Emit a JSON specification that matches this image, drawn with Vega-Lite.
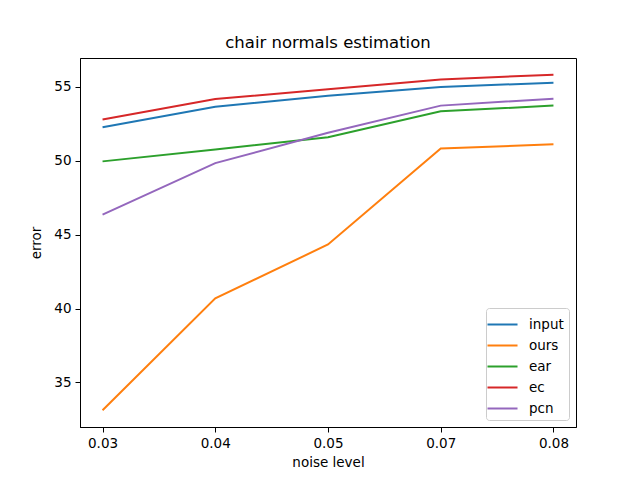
{
  "$schema": "https://vega.github.io/schema/vega-lite/v6.json",
  "autosize": "none",
  "width": 496,
  "height": 369,
  "padding": {"left": 80, "top": 58, "right": 64, "bottom": 53},
  "background": "white",
  "title": {
    "text": "chair normals estimation",
    "font": "DejaVu Sans",
    "fontSize": 16.5,
    "fontWeight": "normal",
    "color": "black",
    "offset": 7
  },
  "config": {
    "font": "DejaVu Sans",
    "view": {"stroke": "black", "strokeWidth": 1},
    "axis": {
      "grid": false,
      "domainColor": "black",
      "tickColor": "black",
      "tickSize": 5,
      "labelFont": "DejaVu Sans",
      "labelFontSize": 13.5,
      "labelColor": "black",
      "titleFont": "DejaVu Sans",
      "titleFontSize": 13.5,
      "titleFontWeight": "normal",
      "titleColor": "black"
    }
  },
  "data": {
    "values": [
      {"noise": "0.03", "method": "input", "error": 52.26},
      {"noise": "0.04", "method": "input", "error": 53.65},
      {"noise": "0.05", "method": "input", "error": 54.39},
      {"noise": "0.07", "method": "input", "error": 54.98},
      {"noise": "0.08", "method": "input", "error": 55.27},
      {"noise": "0.03", "method": "ours", "error": 33.12},
      {"noise": "0.04", "method": "ours", "error": 40.69},
      {"noise": "0.05", "method": "ours", "error": 44.33},
      {"noise": "0.07", "method": "ours", "error": 50.82},
      {"noise": "0.08", "method": "ours", "error": 51.11},
      {"noise": "0.03", "method": "ear", "error": 49.95},
      {"noise": "0.04", "method": "ear", "error": 50.75},
      {"noise": "0.05", "method": "ear", "error": 51.58},
      {"noise": "0.07", "method": "ear", "error": 53.34},
      {"noise": "0.08", "method": "ear", "error": 53.72},
      {"noise": "0.03", "method": "ec", "error": 52.78},
      {"noise": "0.04", "method": "ec", "error": 54.17},
      {"noise": "0.05", "method": "ec", "error": 54.82},
      {"noise": "0.07", "method": "ec", "error": 55.49},
      {"noise": "0.08", "method": "ec", "error": 55.81},
      {"noise": "0.03", "method": "pcn", "error": 46.35},
      {"noise": "0.04", "method": "pcn", "error": 49.83},
      {"noise": "0.05", "method": "pcn", "error": 51.88},
      {"noise": "0.07", "method": "pcn", "error": 53.72},
      {"noise": "0.08", "method": "pcn", "error": 54.19}
    ]
  },
  "mark": {"type": "line", "strokeWidth": 2},
  "encoding": {
    "x": {
      "field": "noise",
      "type": "ordinal",
      "title": "noise level",
      "scale": {"type": "point", "padding": 0.2},
      "axis": {"labelAngle": 0, "titlePadding": 6, "labelPadding": 4}
    },
    "y": {
      "field": "error",
      "type": "quantitative",
      "title": "error",
      "scale": {"domain": [31.99, 56.94], "nice": false, "zero": false},
      "axis": {"values": [35, 40, 45, 50, 55], "titlePadding": 10, "labelPadding": 4}
    },
    "color": {
      "field": "method",
      "type": "nominal",
      "sort": ["input", "ours", "ear", "ec", "pcn"],
      "scale": {
        "domain": ["input", "ours", "ear", "ec", "pcn"],
        "range": ["#1f77b4", "#ff7f0e", "#2ca02c", "#d62728", "#9467bd"]
      },
      "legend": {
        "title": null,
        "orient": "bottom-right",
        "offset": 7,
        "fillColor": "white",
        "strokeColor": "#cccccc",
        "cornerRadius": 3,
        "padding": 5,
        "symbolType": "M-1.43,0H1.43",
        "symbolSize": 441,
        "symbolStrokeWidth": 2,
        "labelOffset": 15,
        "labelFontSize": 13.5,
        "labelFont": "DejaVu Sans",
        "labelColor": "black",
        "rowPadding": 3
      }
    }
  }
}
